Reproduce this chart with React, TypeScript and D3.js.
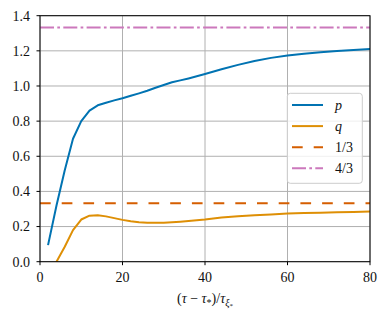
import React from 'react';
import * as d3 from 'd3';

const pX = [2, 4, 6, 8, 10, 12, 14, 16, 18, 20, 22, 24, 26, 28, 30, 32, 34, 36, 38, 40, 44, 48, 52, 56, 60, 64, 68, 72, 76, 80];
const pY = [0.1, 0.32, 0.52, 0.70, 0.80, 0.86, 0.89, 0.905, 0.918, 0.93, 0.944, 0.958, 0.973, 0.99, 1.006, 1.021, 1.032, 1.043, 1.055, 1.068, 1.095, 1.12, 1.142, 1.16, 1.173, 1.184, 1.192, 1.199, 1.205, 1.211];
const qX = [4, 6, 8, 10, 12, 14, 16, 18, 20, 22, 24, 26, 28, 30, 32, 34, 36, 38, 40, 44, 48, 52, 56, 60, 64, 68, 72, 76, 80];
const qY = [0.0, 0.085, 0.18, 0.24, 0.262, 0.265, 0.258, 0.248, 0.238, 0.23, 0.225, 0.222, 0.221, 0.222, 0.225, 0.228, 0.232, 0.236, 0.24, 0.251, 0.259, 0.265, 0.269, 0.274, 0.277, 0.279, 0.281, 0.283, 0.285];
const refLines = [1 / 3, 4 / 3];

const xTicks = [0, 20, 40, 60, 80];
const yTicks = [0.0, 0.2, 0.4, 0.6, 0.8, 1.0, 1.2, 1.4];

const W = 388;
const H = 317;
const margin = { top: 15.7, right: 18, bottom: 55.3, left: 40 };
const font = "'Liberation Serif', 'Times New Roman', Tinos, 'Noto Serif', 'DejaVu Serif', Times, serif";

const blue = '#0173b2';
const orange = '#de8f05';
const red = '#d55e00';
const pink = '#cc78bc';

const App: React.FC = () => {
    const x = d3.scaleLinear().domain([0, 80]).range([margin.left, W - margin.right]);
    const y = d3.scaleLinear().domain([0, 1.4]).range([H - margin.bottom, margin.top]);

    const line = d3.line<[number, number]>()
        .x(d => x(d[0]))
        .y(d => y(d[1]));

    const pPath = line(pX.map((v, i) => [v, pY[i]] as [number, number])) || '';
    const qPath = line(qX.map((v, i) => [v, qY[i]] as [number, number])) || '';

    const [x0, x1] = x.range();
    const [y0, y1] = y.range();

    const legendItems = [
        { label: 'p', italic: true, color: blue, dash: undefined as string | undefined },
        { label: 'q', italic: true, color: orange, dash: undefined },
        { label: '1/3', italic: false, color: red, dash: '10.7 11' },
        { label: '4/3', italic: false, color: pink, dash: '14 3.3 2.7 3.3' },
    ];

    const txt = { fontFamily: font };

    return (
        <svg width={W} height={H} style={{ position: 'absolute', left: 0, top: 0, background: '#fff' }}>
            <defs>
                <clipPath id="plot-clip">
                    <rect x={x0} y={y1} width={x1 - x0} height={y0 - y1} />
                </clipPath>
            </defs>

            {/* grid */}
            <g stroke="#b0b0b0" strokeWidth={1}>
                {xTicks.map(t => (
                    <line key={'gx' + t} x1={x(t)} x2={x(t)} y1={y1} y2={y0} />
                ))}
                {yTicks.map(t => (
                    <line key={'gy' + t} x1={x0} x2={x1} y1={y(t)} y2={y(t)} />
                ))}
            </g>

            {/* series */}
            <g clipPath="url(#plot-clip)" fill="none" strokeWidth={2}>
                <path d={pPath} stroke={blue} strokeLinejoin="round" strokeLinecap="square" />
                <path d={qPath} stroke={orange} strokeLinejoin="round" strokeLinecap="square" />
                <line x1={x0} x2={x1} y1={y(refLines[0])} y2={y(refLines[0])} stroke={red} strokeDasharray="10.7 11" />
                <line x1={x0} x2={x1} y1={y(refLines[1])} y2={y(refLines[1])} stroke={pink} strokeDasharray="14 3.3 2.7 3.3" />
            </g>

            {/* spines */}
            <rect x={x0} y={y1} width={x1 - x0} height={y0 - y1} fill="none" stroke="#000" strokeWidth={1} />

            {/* x axis */}
            <g fontSize={14} textAnchor="middle" fill="#111">
                {xTicks.map(t => (
                    <g key={'tx' + t}>
                        <line x1={x(t)} x2={x(t)} y1={y0} y2={y0 + 3.5} stroke="#000" strokeWidth={1} />
                        <text x={x(t)} y={y0 + 20} style={txt}>{t}</text>
                    </g>
                ))}
            </g>

            {/* y axis */}
            <g fontSize={14} textAnchor="end" fill="#111">
                {yTicks.map(t => (
                    <g key={'ty' + t}>
                        <line x1={x0 - 3.5} x2={x0} y1={y(t)} y2={y(t)} stroke="#000" strokeWidth={1} />
                        <text x={x0 - 10} y={y(t) + 4.8} style={txt}>{t.toFixed(1)}</text>
                    </g>
                ))}
            </g>

            {/* x label */}
            <text x={(x0 + x1) / 2} y={303} textAnchor="middle" fontSize={14} fill="#111" style={txt}>
                <tspan>(</tspan>
                <tspan fontStyle="italic">τ</tspan>
                <tspan> − </tspan>
                <tspan fontStyle="italic">τ</tspan>
                <tspan fontSize={10} dy={3}>*</tspan>
                <tspan dy={-3}>)/</tspan>
                <tspan fontStyle="italic">τ</tspan>
                <tspan fontSize={10} fontStyle="italic" dy={3}>ξ</tspan>
                <tspan fontSize={7} dy={2}>*</tspan>
            </text>

            {/* legend */}
            <g>
                <rect x={287.3} y={93.3} width={75} height={90} rx={3} fill="#fff" fillOpacity={0.8} stroke="#cccccc" strokeWidth={1} />
                {legendItems.map((it, i) => {
                    const ly = 105 + i * 21.1;
                    return (
                        <g key={it.label}>
                            <line x1={292} x2={323} y1={ly} y2={ly} stroke={it.color} strokeWidth={2} strokeDasharray={it.dash} />
                            <text x={335} y={ly + 4.8} fontSize={14} fill="#111" style={txt} fontStyle={it.italic ? 'italic' : 'normal'}>{it.label}</text>
                        </g>
                    );
                })}
            </g>
        </svg>
    );
};

export default App;
